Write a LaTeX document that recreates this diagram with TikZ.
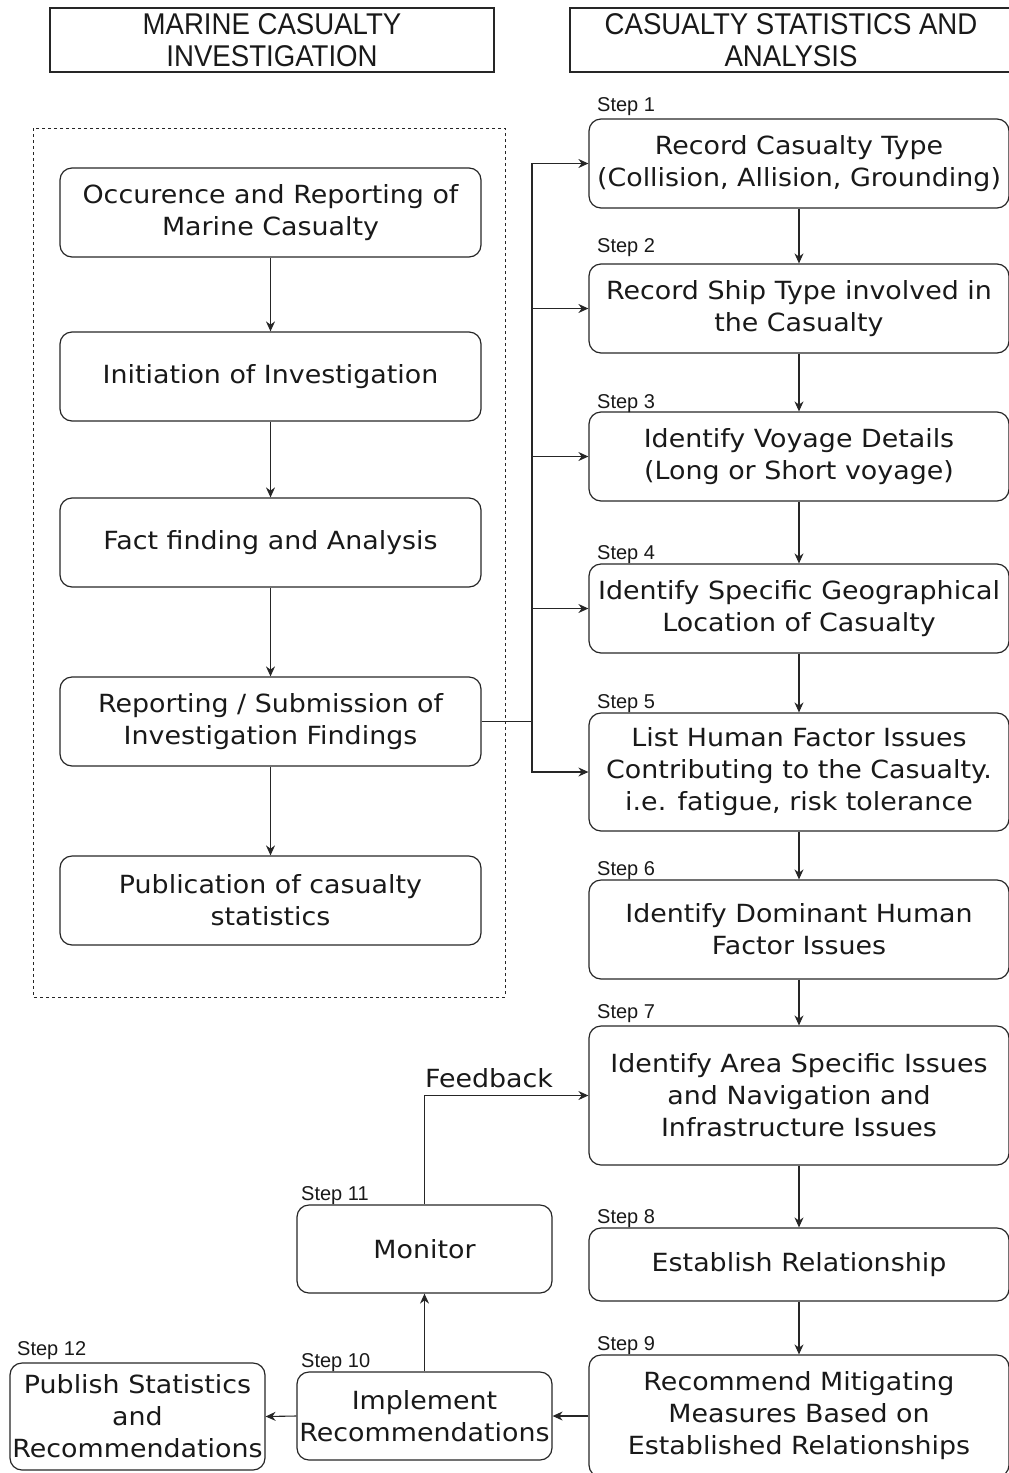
\documentclass[tikz,border=0pt]{standalone}
\usepackage{fontspec}
\setmainfont[FakeStretch=1.075]{DejaVu Sans}
\newfontfamily\stepfont{Liberation Sans}
\newfontfamily\headfont[FakeStretch=0.92]{Liberation Sans}
\usetikzlibrary{arrows.meta}
\begin{document}
\begin{tikzpicture}[x=1pt,y=-1pt,
  box/.style={draw=black!85, line width=1.2pt, rounded corners=12pt, align=center, inner sep=0pt, text=black!90, font=\fontsize{25}{32}\selectfont},
  head/.style={draw=black!85, line width=1.1pt, align=center, inner sep=0pt, text=black!90, font=\headfont\fontsize{30}{32}\selectfont},
  steplbl/.style={anchor=base west, inner sep=0pt, text=black!90, font=\stepfont\fontsize{20}{20}\selectfont},
  arr/.style={-{Stealth[length=10pt,width=9pt]}, line width=1.1pt, draw=black!85},
  ln/.style={line width=1.1pt, draw=black!85}
]
\useasboundingbox (0,0) rectangle (1009,1473);
% headers
\node[head, minimum width=444pt, minimum height=64pt] (h1) at (272,40) {MARINE CASUALTY\\INVESTIGATION};
\node[head, minimum width=442pt, minimum height=64pt] (h2) at (791,40) {CASUALTY STATISTICS AND\\ANALYSIS};
% dashed frame
\draw[line width=1pt, draw=black!85, dash pattern=on 3pt off 3pt] (33,128) rectangle (505,997);
% left column
\node[box, minimum width=421pt, minimum height=89pt] (a) at (270.5,212.5) {Occurence and Reporting of\\Marine Casualty};
\node[box, minimum width=421pt, minimum height=89pt] (b) at (270.5,376.5) {Initiation of Investigation};
\node[box, minimum width=421pt, minimum height=89pt] (c) at (270.5,542.5) {Fact finding and Analysis};
\node[box, minimum width=421pt, minimum height=89pt] (d) at (270.5,721.5) {Reporting / Submission of\\Investigation Findings};
\node[box, minimum width=421pt, minimum height=89pt] (e) at (270.5,900.5) {Publication of casualty\\statistics};
\draw[arr] (a) -- (b);
\draw[arr] (b) -- (c);
\draw[arr] (c) -- (d);
\draw[arr] (d) -- (e);
% right column
\node[box, minimum width=420pt, minimum height=89pt] (s1) at (799,163.5) {Record Casualty Type\\(Collision, Allision, Grounding)};
\node[box, minimum width=420pt, minimum height=89pt] (s2) at (799,308.5) {Record Ship Type involved in\\the Casualty};
\node[box, minimum width=420pt, minimum height=89pt] (s3) at (799,456.5) {Identify Voyage Details\\(Long or Short voyage)};
\node[box, minimum width=420pt, minimum height=89pt] (s4) at (799,608.5) {Identify Specific Geographical\\Location of Casualty};
\node[box, minimum width=420pt, minimum height=118pt] (s5) at (799,772) {List Human Factor Issues\\Contributing to the Casualty.\\i.e. fatigue, risk tolerance};
\node[box, minimum width=420pt, minimum height=99pt] (s6) at (799,929.5) {Identify Dominant Human\\Factor Issues};
\node[box, minimum width=420pt, minimum height=139pt] (s7) at (799,1095.5) {Identify Area Specific Issues\\and Navigation and\\Infrastructure Issues};
\node[box, minimum width=420pt, minimum height=73pt] (s8) at (799,1264.5) {Establish Relationship};
\node[box, minimum width=420pt, minimum height=122pt] (s9) at (799,1416) {Recommend Mitigating\\Measures Based on\\Established Relationships};
\foreach \i/\j in {s1/s2,s2/s3,s3/s4,s4/s5,s5/s6,s6/s7,s7/s8,s8/s9} \draw[arr] (\i) -- (\j);
% bottom-left boxes
\node[box, minimum width=255pt, minimum height=88pt] (mon) at (424.5,1249) {Monitor};
\node[box, minimum width=255pt, minimum height=88pt] (imp) at (424.5,1416) {Implement\\Recommendations};
\node[box, minimum width=255pt, minimum height=107pt] (pub) at (137.5,1416.5) {Publish Statistics\\and\\Recommendations};
\draw[arr] (s9.west) -- (imp.east);
\draw[arr] (imp.west) -- (pub.east);
\draw[arr] (imp.north) -- (mon.south);
\draw[arr] (mon.north) |- (s7.west);
\node[inner sep=0pt, font=\fontsize{25}{32}\selectfont, text=black!90] (fb) at (489,1078) {Feedback};
% fan-out connector
\coordinate (j) at (532,721.5);
\draw[ln] (d.east) -- (j);
\foreach \s in {s1,s2,s3,s4,s5} \draw[arr] (j) |- (\s.west);
% step labels
\node[steplbl] (l1) at (597,111) {Step 1};
\node[steplbl] (l2) at (597,252) {Step 2};
\node[steplbl] (l3) at (597,408) {Step 3};
\node[steplbl] (l4) at (597,559) {Step 4};
\node[steplbl] (l5) at (597,708) {Step 5};
\node[steplbl] (l6) at (597,875) {Step 6};
\node[steplbl] (l7) at (597,1018) {Step 7};
\node[steplbl] (l8) at (597,1223) {Step 8};
\node[steplbl] (l9) at (597,1350) {Step 9};
\node[steplbl] (l11) at (301,1200) {Step 11};
\node[steplbl] (l10) at (301,1367) {Step 10};
\node[steplbl] (l12) at (17,1355) {Step 12};
\end{tikzpicture}
\end{document}
